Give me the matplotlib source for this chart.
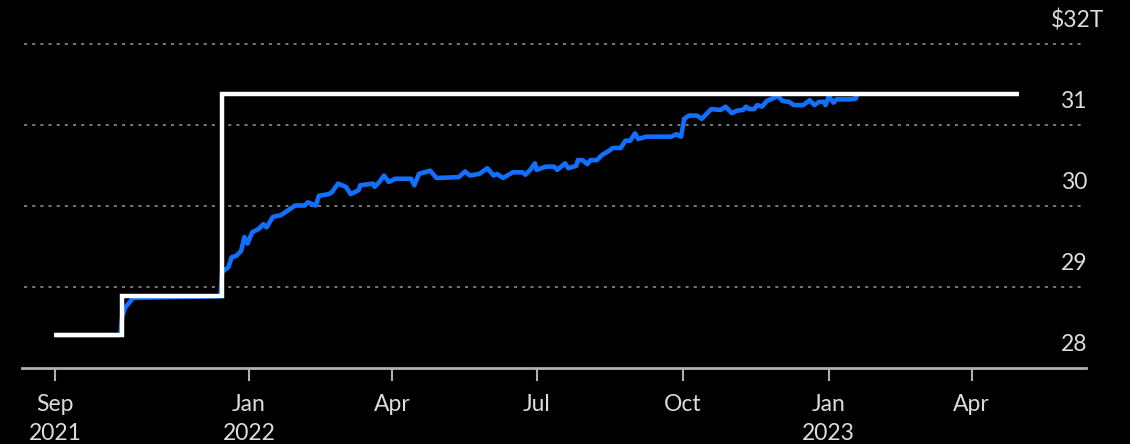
import matplotlib
matplotlib.use("Agg")

from datetime import date
import matplotlib.pyplot as plt
from matplotlib.transforms import blended_transform_factory


# statutory debt limit, $ trillions (step changes)
limit_dates = ["2021-08-31", "2021-10-13", "2021-12-15", "2023-05-01"]
limit_values = [28.40, 28.88, 31.38, 31.38]

# debt subject to limit, $ trillions
debt_dates = [
    "2021-09-03", "2021-10-12", "2021-10-13", "2021-10-15", "2021-10-20",
    "2021-12-14",
    "2021-12-15", "2021-12-19", "2021-12-21", "2021-12-24", "2021-12-27",
    "2021-12-29", "2021-12-31", "2022-01-03", "2022-01-07", "2022-01-10",
    "2022-01-12", "2022-01-16", "2022-01-21", "2022-01-24", "2022-01-30",
    "2022-02-05", "2022-02-07", "2022-02-12", "2022-02-14", "2022-02-20",
    "2022-02-22", "2022-02-26", "2022-03-03", "2022-03-06", "2022-03-11",
    "2022-03-12", "2022-03-20", "2022-03-21", "2022-03-24", "2022-03-27",
    "2022-03-30", "2022-04-03", "2022-04-13", "2022-04-15", "2022-04-18",
    "2022-04-25", "2022-04-29", "2022-05-13", "2022-05-17", "2022-05-20",
    "2022-05-26", "2022-05-31", "2022-06-04", "2022-06-06", "2022-06-10",
    "2022-06-16", "2022-06-22", "2022-06-24", "2022-06-27", "2022-06-30",
    "2022-07-01", "2022-07-07", "2022-07-12", "2022-07-14", "2022-07-19",
    "2022-07-21", "2022-07-26", "2022-07-27", "2022-07-30", "2022-08-02",
    "2022-08-04", "2022-08-08", "2022-08-11", "2022-08-16", "2022-08-18",
    "2022-08-23", "2022-08-26", "2022-08-29", "2022-09-01", "2022-09-03",
    "2022-09-08", "2022-09-24", "2022-09-27", "2022-09-30", "2022-10-02",
    "2022-10-05", "2022-10-10", "2022-10-13", "2022-10-19", "2022-10-25",
    "2022-10-28", "2022-11-01", "2022-11-04", "2022-11-08", "2022-11-10",
    "2022-11-12", "2022-11-15", "2022-11-17", "2022-11-20", "2022-11-23",
    "2022-11-30", "2022-12-03", "2022-12-07", "2022-12-10", "2022-12-16",
    "2022-12-20", "2022-12-23", "2022-12-26", "2022-12-29", "2022-12-30",
    "2023-01-01", "2023-01-04", "2023-01-06", "2023-01-14", "2023-01-18",
    "2023-01-19",
]
debt_values = [
    28.40, 28.40, 28.62, 28.74, 28.86,
    28.88,
    29.18, 29.24, 29.36, 29.38, 29.44,
    29.61, 29.53, 29.67, 29.71, 29.77,
    29.73, 29.86, 29.88, 29.92, 30.00,
    30.00, 30.04, 30.00, 30.12, 30.14,
    30.16, 30.27, 30.23, 30.14, 30.19,
    30.25, 30.27, 30.23, 30.29, 30.37,
    30.29, 30.33, 30.33, 30.25, 30.39,
    30.43, 30.34, 30.35, 30.42, 30.37,
    30.39, 30.46, 30.37, 30.39, 30.34,
    30.41, 30.41, 30.38, 30.44, 30.52,
    30.44, 30.48, 30.48, 30.44, 30.52,
    30.46, 30.49, 30.56, 30.56, 30.51,
    30.56, 30.56, 30.62, 30.68, 30.71,
    30.71, 30.80, 30.80, 30.89, 30.82,
    30.85, 30.85, 30.88, 30.85, 31.07,
    31.11, 31.11, 31.07, 31.19, 31.18,
    31.22, 31.14, 31.17, 31.18, 31.22,
    31.19, 31.19, 31.24, 31.22, 31.29,
    31.35, 31.29, 31.28, 31.24, 31.24,
    31.30, 31.24, 31.28, 31.28, 31.24,
    31.35, 31.27, 31.31, 31.31, 31.32,
    31.37,
]

tick_dates = ["2021-09-01", "2022-01-01", "2022-04-01", "2022-07-01",
              "2022-10-01", "2023-01-01", "2023-04-01"]
tick_labels = ["Sep\n2021", "Jan\n2022", "Apr", "Jul", "Oct", "Jan\n2023", "Apr"]

y_ticks = [28, 29, 30, 31, 32]
y_labels = ["28", "29", "30", "31", "$32T"]


def to_dates(values):
    return [date.fromisoformat(v) for v in values]


BG = "black"
TEXT = "#dcdcdc"
BLUE = "#1170ff"

plt.rcParams["font.family"] = ["Lato", "DejaVu Sans"]

W, H = 1130, 444
fig = plt.figure(figsize=(W / 100, H / 100), dpi=100, facecolor=BG)
ax = fig.add_axes([22 / W, (H - 367.5) / H, (1086 - 22) / W, (367.5 - 20) / H])
ax.set_facecolor(BG)

ax.set_xlim(date(2021, 8, 11), date(2023, 6, 12))
ax.set_ylim(28, 28 + (367.5 - 20) / 81)

# dotted gridlines
for v in y_ticks[1:]:
    ax.axhline(v, xmin=0.002, xmax=0.9985, color="#777777", lw=1.4,
               dashes=(1.6, 2.6), zorder=1)

ax.plot(to_dates(debt_dates), debt_values, color=BLUE, lw=3.3,
        solid_joinstyle="round", zorder=3)
ax.step(to_dates(limit_dates), limit_values, where="post", color="white",
        lw=3.2, solid_joinstyle="miter", solid_capstyle="butt", zorder=4)

# y labels on the right, above each gridline
trans = blended_transform_factory(fig.transFigure, ax.transData)
for v, lab in zip(y_ticks, y_labels):
    xpos = 1104 / W if lab.startswith("$") else 1087 / W
    ax.text(xpos, v + 0.2, lab, transform=trans, ha="right", va="baseline",
            color=TEXT, fontsize=16.5, clip_on=False)

for side in ["top", "right", "left"]:
    ax.spines[side].set_visible(False)
ax.spines["bottom"].set_color("#b0b0b0")
ax.spines["bottom"].set_linewidth(2)

ax.set_yticks([])
ax.set_xticks(to_dates(tick_dates))
ax.set_xticklabels(tick_labels, color=TEXT, fontsize=16.5, linespacing=1.45)
ax.tick_params(axis="x", length=9, width=1.5, color="#b0b0b0", pad=10)

fig.savefig("out.png", dpi=100, facecolor=BG)
